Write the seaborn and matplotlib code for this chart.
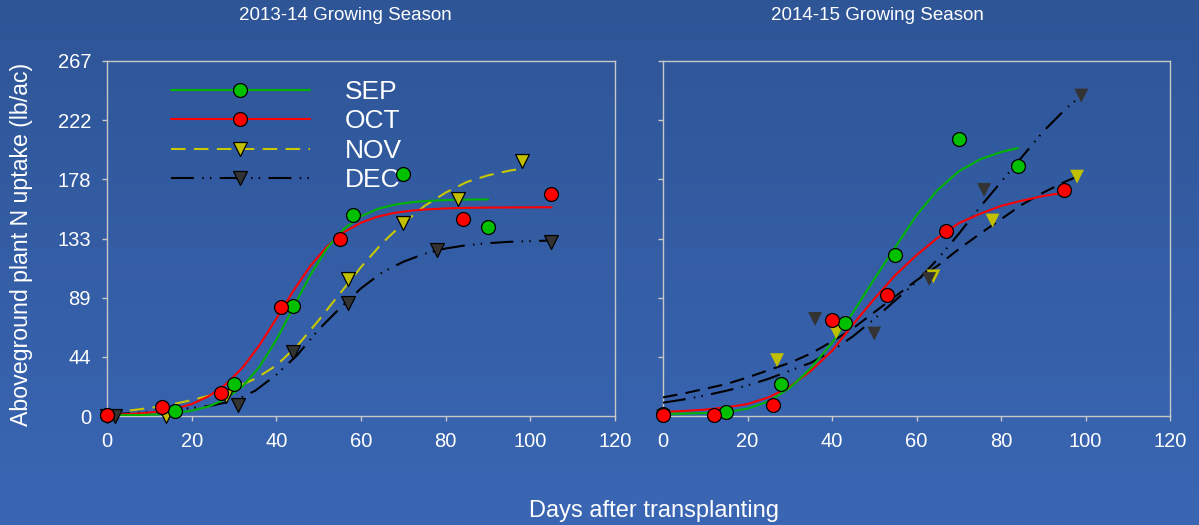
import numpy as np
import pandas as pd
import matplotlib
matplotlib.use("Agg")
import matplotlib.pyplot as plt
from matplotlib.lines import Line2D
import seaborn as sns

# ---------------- data ----------------
months = ["SEP", "OCT", "NOV", "DEC"]
panel_titles = ["2013-14 Growing Season", "2014-15 Growing Season"]
x_ticks = [0, 20, 40, 60, 80, 100, 120]
y_ticks = [0, 44.5, 89, 133.5, 178, 222.5, 267]
y_tick_labels = ["0", "44", "89", "133", "178", "222", "267"]

# 2013-14 observed points
days_sep_13 = [0, 16, 30, 44, 58, 70, 90]
n_sep_13 = [1, 4, 24, 83, 151, 182, 142]
days_oct_13 = [0, 13, 27, 41, 55, 84, 105]
n_oct_13 = [1, 6.5, 17.5, 82, 133, 148, 167]
days_nov_13 = [0, 14, 28, 57, 70, 83, 98]
n_nov_13 = [0, 0, 15, 103, 145, 163, 192]
days_dec_13 = [2, 31, 44, 57, 78, 105]
n_dec_13 = [0, 8, 48, 85, 125, 131]

# 2013-14 fitted curves
cx_sep_13 = [0, 4, 8, 12, 16, 20, 24, 28, 32, 36, 40, 44, 48, 52, 56, 60, 64, 68, 72, 76, 80, 84, 90]
cy_sep_13 = [0.5, 0.6, 0.8, 1.2, 2.2, 4, 7.2, 12.8, 22.2, 36.9, 57.2, 81.5, 105.8, 126.2, 140.8,
             150.2, 155.8, 159, 160.8, 161.8, 162.4, 162.7, 162.9]
cx_oct_13 = [0, 4, 8, 12, 16, 20, 24, 28, 32, 36, 40, 44, 48, 52, 56, 60, 64, 68, 72, 76, 80, 84, 88, 96, 105]
cy_oct_13 = [1, 1.3, 2, 3.2, 5.4, 9, 14.8, 23.6, 36.3, 53.2, 73.3, 94, 112.7, 127.5, 138.3, 145.4,
             150, 152.8, 154.5, 155.5, 156.1, 156.5, 156.7, 156.9, 157]
cx_nov_13 = [0, 5, 10, 15, 20, 25, 30, 35, 40, 45, 50, 55, 60, 65, 70, 75, 80, 85, 90, 95, 98]
cy_nov_13 = [2, 4, 6, 8.5, 12, 16, 21, 28, 38, 53, 72, 92, 112, 130, 145, 158, 168, 176, 181, 184.5, 186]
cx_dec_13 = [0, 5, 10, 15, 20, 25, 30, 35, 40, 45, 50, 55, 60, 65, 70, 75, 80, 85, 90, 95, 100, 105]
cy_dec_13 = [1, 2, 3, 4.5, 6, 8, 11.5, 19, 31, 46, 65, 81, 96, 108, 116, 122, 126, 128.5, 130, 131, 131.5, 132]

# 2014-15 observed points
days_sep_14 = [0, 15, 28, 43, 55, 70, 84]
n_sep_14 = [1.5, 3, 24, 70, 121, 208, 188]
days_oct_14 = [0, 12, 26, 40, 53, 67, 95]
n_oct_14 = [1, 1, 8, 72, 91, 139, 170]
days_nov_14 = [27, 41, 64, 78, 98]
n_nov_14 = [42, 63, 105, 147, 180]
days_dec_14 = [0, 12.7, 36, 50, 63, 76, 99]
n_dec_14 = [0, 0, 73, 62, 103, 170, 241]

# 2014-15 fitted curves
cx_sep_14 = [0, 5, 10, 15, 20, 25, 30, 35, 40, 45, 50, 55, 60, 65, 70, 75, 80, 84]
cy_sep_14 = [1.5, 1.8, 2.2, 3, 5.5, 11, 21, 36, 55, 78, 103, 127, 151, 170, 184, 193, 198.5, 201.5]
cx_oct_14 = [0, 5, 10, 15, 20, 25, 30, 35, 40, 45, 50, 55, 60, 65, 70, 75, 80, 85, 90, 95]
cy_oct_14 = [3, 3.8, 4.8, 6.5, 9, 14, 22, 34, 49, 69, 88, 106, 121, 134, 145, 152, 158, 162, 165.5, 168]
cx_nov_14 = [0, 5, 10, 15, 20, 25, 30, 35, 40, 45, 50, 55, 60, 65, 70, 75, 80, 85, 90, 95, 98]
cy_nov_14 = [14, 17, 20.5, 24, 29, 34.5, 40, 47, 56, 66, 78, 90, 102, 113, 125.5, 137, 148, 159, 168, 176, 180]
cx_dec_14 = [0, 5, 10, 15, 20, 25, 30, 35, 40, 45, 50, 55, 60, 65, 70, 75, 80, 85, 90, 95, 99]
cy_dec_14 = [10, 12.5, 15.5, 19, 23, 28, 34, 40, 49, 60, 73, 87, 101, 118, 137, 157, 176, 195, 214, 230, 241]

# ---------------- styles ----------------
marker_face = {"SEP": "#00c000", "OCT": "#ff0000", "NOV": "#c0c000", "DEC": "#333333"}
markers = {"SEP": "o", "OCT": "o", "NOV": "v", "DEC": "v"}
line_color_13 = {"SEP": "#00b400", "OCT": "#ff0000", "NOV": "#c8c800", "DEC": "#000000"}
line_color_14 = {"SEP": "#00b400", "OCT": "#ff0000", "NOV": "#000000", "DEC": "#000000"}
line_style = {"SEP": "-", "OCT": "-", "NOV": (0, (7, 4)), "DEC": (0, (11, 4, 0.7, 3, 0.7, 4))}
line_width = 1.5
tri_edge_14 = "none"

sns.set_theme(style="white")
plt.rcParams["font.family"] = ["Liberation Sans", "DejaVu Sans"]

W, H = 1199, 525
fig = plt.figure(figsize=(W / 100, H / 100), dpi=100)

# gradient background
bg = fig.add_axes([0, 0, 1, 1], zorder=-10)
top = np.array([46, 85, 150]) / 255.0
bot = np.array([58, 102, 180]) / 255.0
t = np.linspace(0, 1, 256)[:, None]
grad = (top[None, :] * (1 - t) + bot[None, :] * t)[:, None, :]
bg.imshow(grad, aspect="auto", extent=[0, 1, 0, 1])
bg.set_axis_off()

spine_col = "#c8c8c8"


def make_ax(left_px, right_px):
    ax = fig.add_axes([left_px / W, 1 - 416 / H, (right_px - left_px) / W, (416 - 61) / H])
    ax.set_facecolor("none")
    ax.set_xlim(0, 120)
    ax.set_ylim(0, 267)
    for s in ax.spines.values():
        s.set_color(spine_col)
        s.set_linewidth(1.0)
        s.set_visible(True)
    ax.set_xticks(x_ticks)
    ax.set_yticks(y_ticks)
    ax.tick_params(axis="both", direction="out", length=3.5, width=1, color=spine_col,
                   labelcolor="white", labelsize=14.5, pad=8, bottom=True, left=True)
    ax.set_xlabel("")
    ax.set_ylabel("")
    return ax


ax1 = make_ax(107, 615)
ax2 = make_ax(663, 1170)
ax1.set_yticklabels(y_tick_labels)
ax2.set_yticklabels([])

curves_13 = {"SEP": (cx_sep_13, cy_sep_13), "OCT": (cx_oct_13, cy_oct_13),
             "NOV": (cx_nov_13, cy_nov_13), "DEC": (cx_dec_13, cy_dec_13)}
points_13 = {"SEP": (days_sep_13, n_sep_13), "OCT": (days_oct_13, n_oct_13),
             "NOV": (days_nov_13, n_nov_13), "DEC": (days_dec_13, n_dec_13)}
curves_14 = {"SEP": (cx_sep_14, cy_sep_14), "OCT": (cx_oct_14, cy_oct_14),
             "NOV": (cx_nov_14, cy_nov_14), "DEC": (cx_dec_14, cy_dec_14)}
points_14 = {"SEP": (days_sep_14, n_sep_14), "OCT": (days_oct_14, n_oct_14),
             "NOV": (days_nov_14, n_nov_14), "DEC": (days_dec_14, n_dec_14)}


def draw_panel(ax, curves, points, line_colors, tri_edge):
    for m in ["DEC", "NOV", "OCT", "SEP"]:
        cx, cy = curves[m]
        sns.lineplot(x=cx, y=cy, ax=ax, color=line_colors[m], linewidth=line_width,
                     linestyle=line_style[m], sort=False, estimator=None, legend=False, zorder=4)
    for m in ["NOV", "DEC", "SEP", "OCT"]:
        px, py = points[m]
        edge = "black" if markers[m] == "o" else tri_edge
        sns.scatterplot(x=px, y=py, ax=ax, marker=markers[m], color=marker_face[m],
                        edgecolor=edge, linewidth=0.9, s=100, zorder=6, clip_on=False, legend=False)
    ax.set_xlabel("")
    ax.set_ylabel("")


draw_panel(ax1, curves_13, points_13, line_color_13, "black")
draw_panel(ax2, curves_14, points_14, line_color_14, tri_edge_14)

handles = []
for m in months:
    handles.append(Line2D([], [], color=line_color_13[m], linestyle=line_style[m], linewidth=line_width,
                          marker=markers[m], markerfacecolor=marker_face[m], markeredgecolor="black",
                          markeredgewidth=0.9, markersize=10))
leg = ax1.legend(handles, months, loc="upper left", bbox_to_anchor=(0.125, 0.947), frameon=False,
                 fontsize=19, labelcolor="white", handlelength=5.3, handletextpad=1.3, numpoints=1,
                 borderaxespad=0, borderpad=0, labelspacing=0.21)
leg.set_zorder(5)

fig.text(345 / W, 1 - 15 / H, panel_titles[0], color="white", fontsize=13.5, ha="center", va="center")
fig.text(877 / W, 1 - 15 / H, panel_titles[1], color="white", fontsize=13.5, ha="center", va="center")
fig.text(21.5 / W, 1 - 244 / H, "Aboveground plant N uptake (lb/ac)", color="white", fontsize=16.7,
         rotation=90, ha="center", va="center")
fig.text(654 / W, 1 - 511 / H, "Days after transplanting", color="white", fontsize=17,
         ha="center", va="center")

fig.savefig("out.png", dpi=100)
